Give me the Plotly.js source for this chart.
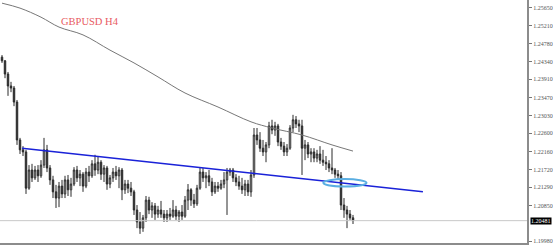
<!DOCTYPE html>
<html><head><meta charset="utf-8">
<script src="https://cdn.plot.ly/plotly-3.0.1.min.js"></script>
<style>html,body{margin:0;padding:0;background:#fff}#chart{width:553px;height:246px}</style>
</head><body><div id="chart"></div>
<script>
// GBPUSD H4 candles (index = bar number)
const openP = [1.2445,1.2436,1.2404,1.2375,1.2370,1.2336,1.2244,1.2220,1.2215,1.2127,
1.2171,1.2152,1.2171,1.2157,1.2183,1.2220,1.2176,1.2147,1.2118,1.2103,
1.2132,1.2113,1.2147,1.2123,1.2137,1.2171,1.2152,1.2161,1.2132,1.2166,
1.2157,1.2186,1.2171,1.2190,1.2161,1.2176,1.2137,1.2152,1.2166,1.2157,
1.2171,1.2123,1.2137,1.2127,1.2118,1.2074,1.2045,1.2030,1.2055,1.2098,
1.2074,1.2084,1.2064,1.2074,1.2064,1.2055,1.2064,1.2059,1.2074,1.2059,
1.2069,1.2059,1.2098,1.2123,1.2098,1.2089,1.2127,1.2166,1.2152,1.2157,
1.2142,1.2118,1.2132,1.2127,1.2137,1.2147,1.2166,1.2171,1.2152,1.2142,
1.2132,1.2123,1.2137,1.2118,1.2159,1.2256,1.2244,1.2224,1.2215,1.2232,
1.2278,1.2268,1.2278,1.2239,1.2229,1.2215,1.2224,1.2273,1.2293,1.2283,
1.2278,1.2224,1.2232,1.2210,1.2215,1.2200,1.2210,1.2195,1.2190,1.2186,
1.2176,1.2171,1.2161,1.2157,1.2086,1.2074,1.2064,1.2055];
const highP = [1.2450,1.2438,1.2409,1.2385,1.2375,1.2341,1.2249,1.2229,1.2220,1.2183,
1.2186,1.2181,1.2183,1.2195,1.2249,1.2232,1.2183,1.2157,1.2135,1.2142,
1.2147,1.2157,1.2159,1.2152,1.2178,1.2181,1.2171,1.2166,1.2176,1.2181,
1.2195,1.2208,1.2203,1.2195,1.2183,1.2181,1.2159,1.2176,1.2181,1.2178,
1.2176,1.2147,1.2147,1.2142,1.2123,1.2086,1.2069,1.2062,1.2108,1.2106,
1.2093,1.2091,1.2084,1.2096,1.2074,1.2074,1.2079,1.2098,1.2084,1.2074,
1.2086,1.2108,1.2137,1.2127,1.2113,1.2135,1.2176,1.2176,1.2166,1.2171,
1.2152,1.2142,1.2142,1.2147,1.2166,1.2176,1.2176,1.2176,1.2161,1.2157,
1.2152,1.2147,1.2147,1.2171,1.2273,1.2273,1.2263,1.2244,1.2239,1.2288,
1.2293,1.2288,1.2283,1.2249,1.2239,1.2234,1.2280,1.2305,1.2302,1.2293,
1.2293,1.2244,1.2239,1.2224,1.2224,1.2220,1.2229,1.2220,1.2205,1.2195,
1.2224,1.2176,1.2171,1.2166,1.2103,1.2084,1.2074,1.2062];
const lowP = [1.2431,1.2394,1.2351,1.2360,1.2326,1.2232,1.2210,1.2205,1.2113,1.2123,
1.2142,1.2147,1.2142,1.2152,1.2176,1.2166,1.2135,1.2103,1.2079,1.2081,
1.2103,1.2103,1.2108,1.2106,1.2132,1.2142,1.2132,1.2118,1.2127,1.2142,
1.2152,1.2157,1.2161,1.2147,1.2142,1.2123,1.2127,1.2142,1.2147,1.2127,
1.2098,1.2113,1.2115,1.2108,1.2062,1.2030,1.2016,1.2021,1.2045,1.2064,
1.2055,1.2050,1.2055,1.2055,1.2045,1.2045,1.2050,1.2055,1.2050,1.2045,
1.2050,1.2055,1.2074,1.2084,1.2079,1.2084,1.2123,1.2142,1.2127,1.2132,
1.2108,1.2113,1.2118,1.2123,1.2127,1.2062,1.2157,1.2142,1.2132,1.2123,
1.2113,1.2108,1.2108,1.2106,1.2152,1.2232,1.2215,1.2205,1.2190,1.2224,
1.2258,1.2254,1.2229,1.2220,1.2205,1.2205,1.2220,1.2263,1.2273,1.2263,
1.2159,1.2195,1.2200,1.2190,1.2190,1.2190,1.2186,1.2181,1.2171,1.2166,
1.2161,1.2152,1.2147,1.2074,1.2055,1.2030,1.2050,1.2040];
const closeP = [1.2436,1.2404,1.2375,1.2370,1.2336,1.2244,1.2220,1.2215,1.2127,1.2171,
1.2152,1.2171,1.2157,1.2183,1.2220,1.2176,1.2147,1.2118,1.2103,1.2132,
1.2113,1.2147,1.2123,1.2137,1.2171,1.2152,1.2161,1.2132,1.2166,1.2157,
1.2186,1.2171,1.2190,1.2161,1.2176,1.2137,1.2152,1.2166,1.2157,1.2171,
1.2123,1.2137,1.2127,1.2118,1.2074,1.2045,1.2030,1.2055,1.2098,1.2074,
1.2084,1.2064,1.2074,1.2064,1.2055,1.2064,1.2059,1.2074,1.2059,1.2069,
1.2059,1.2098,1.2123,1.2098,1.2089,1.2127,1.2166,1.2152,1.2157,1.2142,
1.2118,1.2132,1.2127,1.2137,1.2147,1.2166,1.2171,1.2152,1.2142,1.2132,
1.2123,1.2137,1.2118,1.2159,1.2256,1.2244,1.2224,1.2215,1.2232,1.2278,
1.2268,1.2278,1.2239,1.2229,1.2215,1.2224,1.2273,1.2293,1.2283,1.2278,
1.2224,1.2232,1.2210,1.2215,1.2200,1.2210,1.2195,1.2190,1.2186,1.2176,
1.2171,1.2161,1.2157,1.2086,1.2074,1.2064,1.2055,1.20481];

// moving average (read at selected bars)
const maX = [0,6,13,19,27,36,44,52,61,72,83,90,100,110,117];
const maY = [1.2576,1.2564,1.2542,1.2518,1.2499,1.2462,1.2431,1.2397,1.2358,1.2324,1.2288,1.2273,1.2256,1.2232,1.2217];

// trend line and highlight ellipse
const trendX = [6.7,140.3];
const trendY = [1.2224,1.2118];
const ellipseX = [107.1,121.5];
const ellipseY = [1.2131,1.2149];

const lastPrice = 1.20481;
const tickVals = [1.2565,1.2521,1.2478,1.2434,1.2391,1.2347,1.2303,1.2260,1.2216,1.2172,1.2129,1.2085,1.1998];
const tickText = ["1.25650","1.25210","1.24780","1.24340","1.23910","1.23470","1.23030","1.22600","1.22160","1.21720","1.21290","1.20850","1.19980"];
const title = "GBPUSD H4";

const idx = openP.map((_,i)=>i);

const traces = [
 {type:'candlestick', x:idx, open:openP, high:highP, low:lowP, close:closeP,
  increasing:{line:{color:'#2a2a2a',width:1}, fillcolor:'#fff'},
  decreasing:{line:{color:'#2a2a2a',width:1}, fillcolor:'#2a2a2a'},
  whiskerwidth:0, hoverinfo:'skip'},
 {type:'scatter', mode:'lines', x:maX, y:maY, line:{color:'#777',width:1,shape:'spline'}, hoverinfo:'skip'},
 {type:'scatter', mode:'lines', x:trendX, y:trendY, line:{color:'#1a22d8',width:1.5}, hoverinfo:'skip'}
];

const layout = {
 width:553, height:246,
 margin:{l:0,r:26,t:0,b:3},
 paper_bgcolor:'#fff', plot_bgcolor:'#fff',
 showlegend:false, hovermode:false,
 xaxis:{range:[-0.667,175], showgrid:false, zeroline:false, showticklabels:false, ticks:'',
  showline:true, linecolor:'#8c8c8c', linewidth:2, rangeslider:{visible:false}},
 yaxis:{side:'right', range:[1.19939,1.25837], showgrid:false, zeroline:false,
  tickvals:tickVals, ticktext:tickText, ticks:'outside', ticklen:3, tickcolor:'#777',
  tickfont:{family:'Liberation Serif', size:6, color:'#555'},
  showline:true, linecolor:'#8c8c8c', linewidth:2},
 shapes:[
  {type:'line', xref:'paper', yref:'y', x0:0, x1:1, y0:lastPrice, y1:lastPrice, line:{color:'#c8c8c8',width:1}},
  {type:'circle', xref:'x', yref:'y', x0:ellipseX[0], x1:ellipseX[1], y0:ellipseY[0], y1:ellipseY[1], line:{color:'#5aaee2',width:2}}
 ],
 annotations:[
  {text:title, xref:'paper', yref:'paper', x:0.112, y:0.912, xanchor:'left', yanchor:'middle', showarrow:false,
   font:{family:'Liberation Serif', size:10.5, color:'#e85a62'}},
  {text:lastPrice.toFixed(5), xref:'paper', yref:'y', x:1.006, y:lastPrice, xanchor:'left', yanchor:'middle', showarrow:false,
   bgcolor:'#000', font:{family:'Liberation Serif', size:6, color:'#fff'}, borderpad:0}
 ]
};
Plotly.newPlot('chart', traces, layout, {staticPlot:true, displayModeBar:false});
</script></body></html>
